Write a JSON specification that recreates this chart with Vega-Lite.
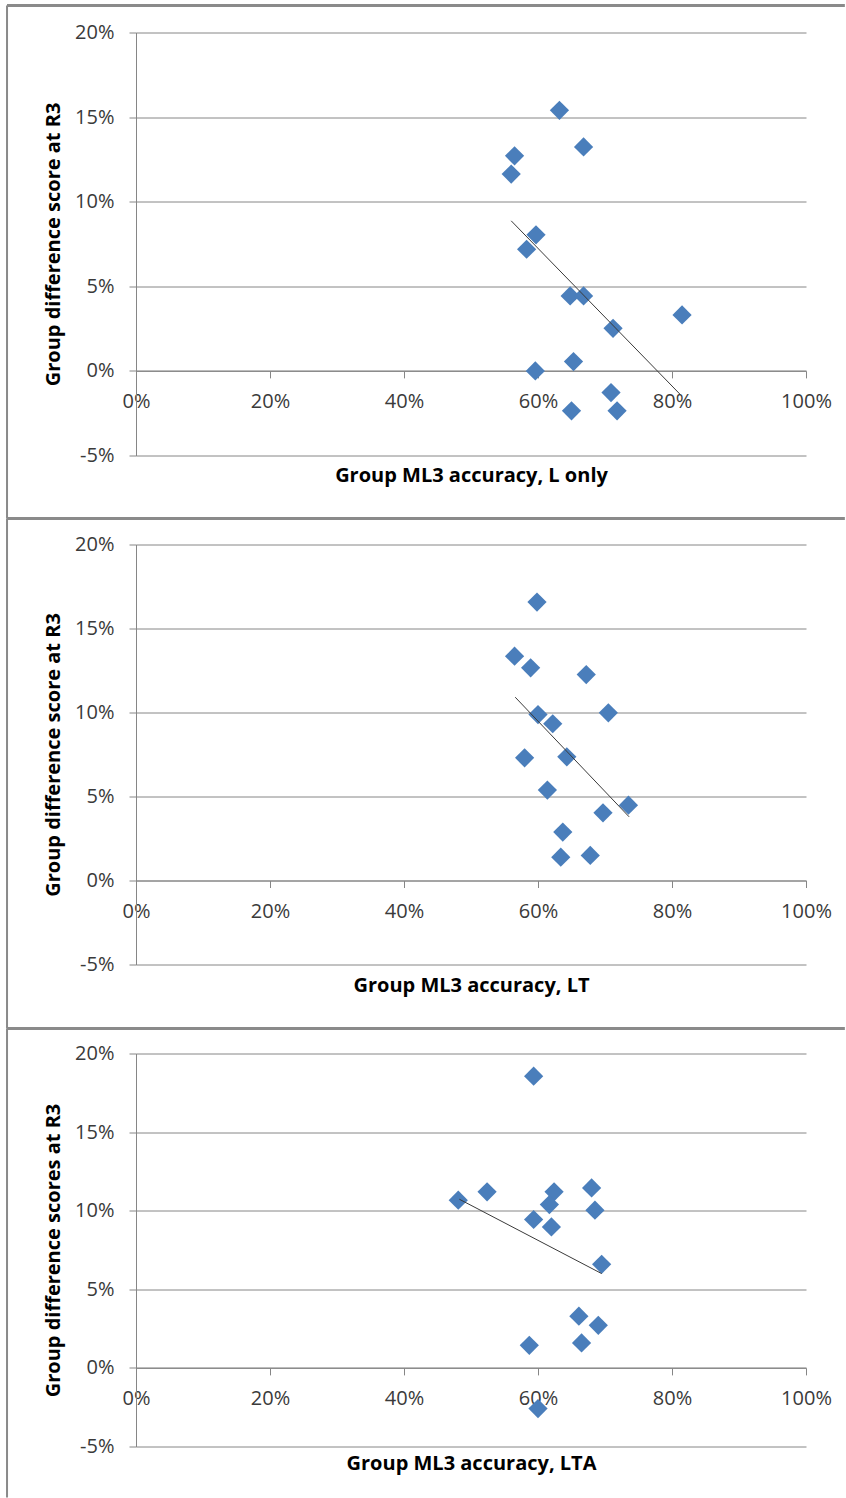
{
  "$schema": "https://vega.github.io/schema/vega-lite/v6.json",
  "padding": {"left": 5, "top": 3.5, "right": 0, "bottom": 0},
  "background": "white",
  "bounds": "flush",
  "spacing": 89,
  "config": {
    "view": {"stroke": null},
    "axis": {
      "labelFont": "Open Sans", "labelFontSize": 20, "labelColor": "#3a3a3a",
      "titleFont": "Open Sans", "titleFontSize": 20, "titleFontWeight": "bold", "titleColor": "#000000",
      "domainColor": "#868686", "tickColor": "#868686", "gridColor": "#868686",
      "tickSize": 7, "domainWidth": 1, "gridWidth": 1, "tickWidth": 1, "labelFlush": false, "labelOverlap": false
    }
  },
  "datasets": {
    "p1": [
      {"acc": 0.632, "diff": 0.154}, {"acc": 0.668, "diff": 0.1324}, {"acc": 0.565, "diff": 0.1271},
      {"acc": 0.560, "diff": 0.1163}, {"acc": 0.597, "diff": 0.0804}, {"acc": 0.583, "diff": 0.0719},
      {"acc": 0.648, "diff": 0.0443}, {"acc": 0.668, "diff": 0.0443}, {"acc": 0.815, "diff": 0.0331},
      {"acc": 0.712, "diff": 0.0252}, {"acc": 0.653, "diff": 0.0055}, {"acc": 0.596, "diff": 0.0},
      {"acc": 0.709, "diff": -0.0128}, {"acc": 0.650, "diff": -0.0236}, {"acc": 0.718, "diff": -0.0236}
    ],
    "t1": [{"acc": 0.560, "diff": 0.0887}, {"acc": 0.812, "diff": -0.0138}],
    "p2": [
      {"acc": 0.5985, "diff": 0.1657}, {"acc": 0.565, "diff": 0.1335}, {"acc": 0.589, "diff": 0.1266},
      {"acc": 0.672, "diff": 0.1226}, {"acc": 0.600, "diff": 0.0988}, {"acc": 0.705, "diff": 0.0998},
      {"acc": 0.622, "diff": 0.0933}, {"acc": 0.580, "diff": 0.0730}, {"acc": 0.643, "diff": 0.0736},
      {"acc": 0.614, "diff": 0.0538}, {"acc": 0.735, "diff": 0.0448}, {"acc": 0.697, "diff": 0.0403},
      {"acc": 0.637, "diff": 0.0288}, {"acc": 0.634, "diff": 0.0139}, {"acc": 0.678, "diff": 0.0149}
    ],
    "t2": [{"acc": 0.566, "diff": 0.1091}, {"acc": 0.736, "diff": 0.0379}],
    "p3": [
      {"acc": 0.5935, "diff": 0.1856}, {"acc": 0.680, "diff": 0.1145}, {"acc": 0.524, "diff": 0.1120},
      {"acc": 0.624, "diff": 0.1120}, {"acc": 0.481, "diff": 0.1067}, {"acc": 0.617, "diff": 0.1039},
      {"acc": 0.685, "diff": 0.1003}, {"acc": 0.5935, "diff": 0.0944}, {"acc": 0.620, "diff": 0.0897},
      {"acc": 0.695, "diff": 0.0659}, {"acc": 0.661, "diff": 0.0329}, {"acc": 0.690, "diff": 0.0271},
      {"acc": 0.587, "diff": 0.0144}, {"acc": 0.665, "diff": 0.0159}, {"acc": 0.600, "diff": -0.0259}
    ],
    "t3": [{"acc": 0.4826, "diff": 0.1073}, {"acc": 0.695, "diff": 0.060}]
  },
  "vconcat": [
    {
      "width": 670, "height": 423,
      "layer": [
        {"data": {"name": "p1"}, "mark": {"type": "point", "shape": "diamond", "filled": true, "size": 370, "color": "#4A7EBB", "opacity": 1},
         "encoding": {
           "x": {"field": "acc", "type": "quantitative", "scale": {"domain": [0, 1], "nice": false, "zero": false},
                 "axis": {"title": "Group ML3 accuracy, L only", "values": [0, 0.2, 0.4, 0.6, 0.8, 1], "format": ".0%", "grid": false, "offset": -84.6, "labelPadding": 14, "titleY": 105, "titleBaseline": "middle"}},
           "y": {"field": "diff", "type": "quantitative", "scale": {"domain": [-0.05, 0.2], "nice": false, "zero": false},
                 "axis": {"title": "Group difference score at R3", "values": [-0.05, 0, 0.05, 0.1, 0.15, 0.2], "format": ".0%", "labelExpr": "replace(datum.label, '\u2212', '-')", "grid": true, "labelPadding": 15, "titleX": -83, "titleBaseline": "middle"}}
         }},
        {"data": {"name": "t1"}, "mark": {"type": "line", "color": "#3a3a3a", "strokeWidth": 1},
         "encoding": {"x": {"field": "acc", "type": "quantitative"}, "y": {"field": "diff", "type": "quantitative"}}},
        {"data": {"values": [{}]}, "mark": {"type": "rule", "color": "#8a8a8a", "strokeWidth": 3},
         "encoding": {"x": {"datum": -0.1925, "type": "quantitative"}, "x2": {"datum": 1.058}, "y": {"datum": 0.216, "type": "quantitative"}}},
        {"data": {"values": [{}]}, "mark": {"type": "rule", "color": "#8a8a8a", "strokeWidth": 3},
         "encoding": {"x": {"datum": -0.1925, "type": "quantitative"}, "x2": {"datum": 1.058}, "y": {"datum": -0.0872, "type": "quantitative"}}},
        {"data": {"values": [{}]}, "mark": {"type": "rule", "color": "#8a8a8a", "strokeWidth": 2},
         "encoding": {"x": {"datum": -0.1925, "type": "quantitative"}, "y": {"datum": 0.216, "type": "quantitative"}, "y2": {"datum": -0.0872}}}
      ]
    },
    {
      "width": 670, "height": 420,
      "layer": [
        {"data": {"name": "p2"}, "mark": {"type": "point", "shape": "diamond", "filled": true, "size": 370, "color": "#4A7EBB", "opacity": 1},
         "encoding": {
           "x": {"field": "acc", "type": "quantitative", "scale": {"domain": [0, 1], "nice": false, "zero": false},
                 "axis": {"title": "Group ML3 accuracy, LT", "values": [0, 0.2, 0.4, 0.6, 0.8, 1], "format": ".0%", "grid": false, "offset": -84, "labelPadding": 14, "titleY": 105, "titleBaseline": "middle"}},
           "y": {"field": "diff", "type": "quantitative", "scale": {"domain": [-0.05, 0.2], "nice": false, "zero": false},
                 "axis": {"title": "Group difference score at R3", "values": [-0.05, 0, 0.05, 0.1, 0.15, 0.2], "format": ".0%", "labelExpr": "replace(datum.label, '\u2212', '-')", "grid": true, "labelPadding": 15, "titleX": -83, "titleBaseline": "middle"}}
         }},
        {"data": {"name": "t2"}, "mark": {"type": "line", "color": "#3a3a3a", "strokeWidth": 1},
         "encoding": {"x": {"field": "acc", "type": "quantitative"}, "y": {"field": "diff", "type": "quantitative"}}},
        {"data": {"values": [{}]}, "mark": {"type": "rule", "color": "#8a8a8a", "strokeWidth": 3},
         "encoding": {"x": {"datum": -0.1925, "type": "quantitative"}, "x2": {"datum": 1.058}, "y": {"datum": -0.0881, "type": "quantitative"}}},
        {"data": {"values": [{}]}, "mark": {"type": "rule", "color": "#8a8a8a", "strokeWidth": 2},
         "encoding": {"x": {"datum": -0.1925, "type": "quantitative"}, "y": {"datum": 0.2155, "type": "quantitative"}, "y2": {"datum": -0.0881}}}
      ]
    },
    {
      "width": 670, "height": 393,
      "layer": [
        {"data": {"name": "p3"}, "mark": {"type": "point", "shape": "diamond", "filled": true, "size": 370, "color": "#4A7EBB", "opacity": 1},
         "encoding": {
           "x": {"field": "acc", "type": "quantitative", "scale": {"domain": [0, 1], "nice": false, "zero": false},
                 "axis": {"title": "Group ML3 accuracy, LTA", "values": [0, 0.2, 0.4, 0.6, 0.8, 1], "format": ".0%", "grid": false, "offset": -78.6, "labelPadding": 14, "titleY": 96, "titleBaseline": "middle"}},
           "y": {"field": "diff", "type": "quantitative", "scale": {"domain": [-0.05, 0.2], "nice": false, "zero": false},
                 "axis": {"title": "Group difference scores at R3", "values": [-0.05, 0, 0.05, 0.1, 0.15, 0.2], "format": ".0%", "labelExpr": "replace(datum.label, '\u2212', '-')", "grid": true, "labelPadding": 15, "titleX": -83, "titleBaseline": "middle"}}
         }},
        {"data": {"name": "t3"}, "mark": {"type": "line", "color": "#3a3a3a", "strokeWidth": 1},
         "encoding": {"x": {"field": "acc", "type": "quantitative"}, "y": {"field": "diff", "type": "quantitative"}}},
        {"data": {"values": [{}]}, "mark": {"type": "rule", "color": "#8a8a8a", "strokeWidth": 2},
         "encoding": {"x": {"datum": -0.1925, "type": "quantitative"}, "y": {"datum": 0.2159, "type": "quantitative"}, "y2": {"datum": -0.0824}}}
      ]
    }
  ]
}
